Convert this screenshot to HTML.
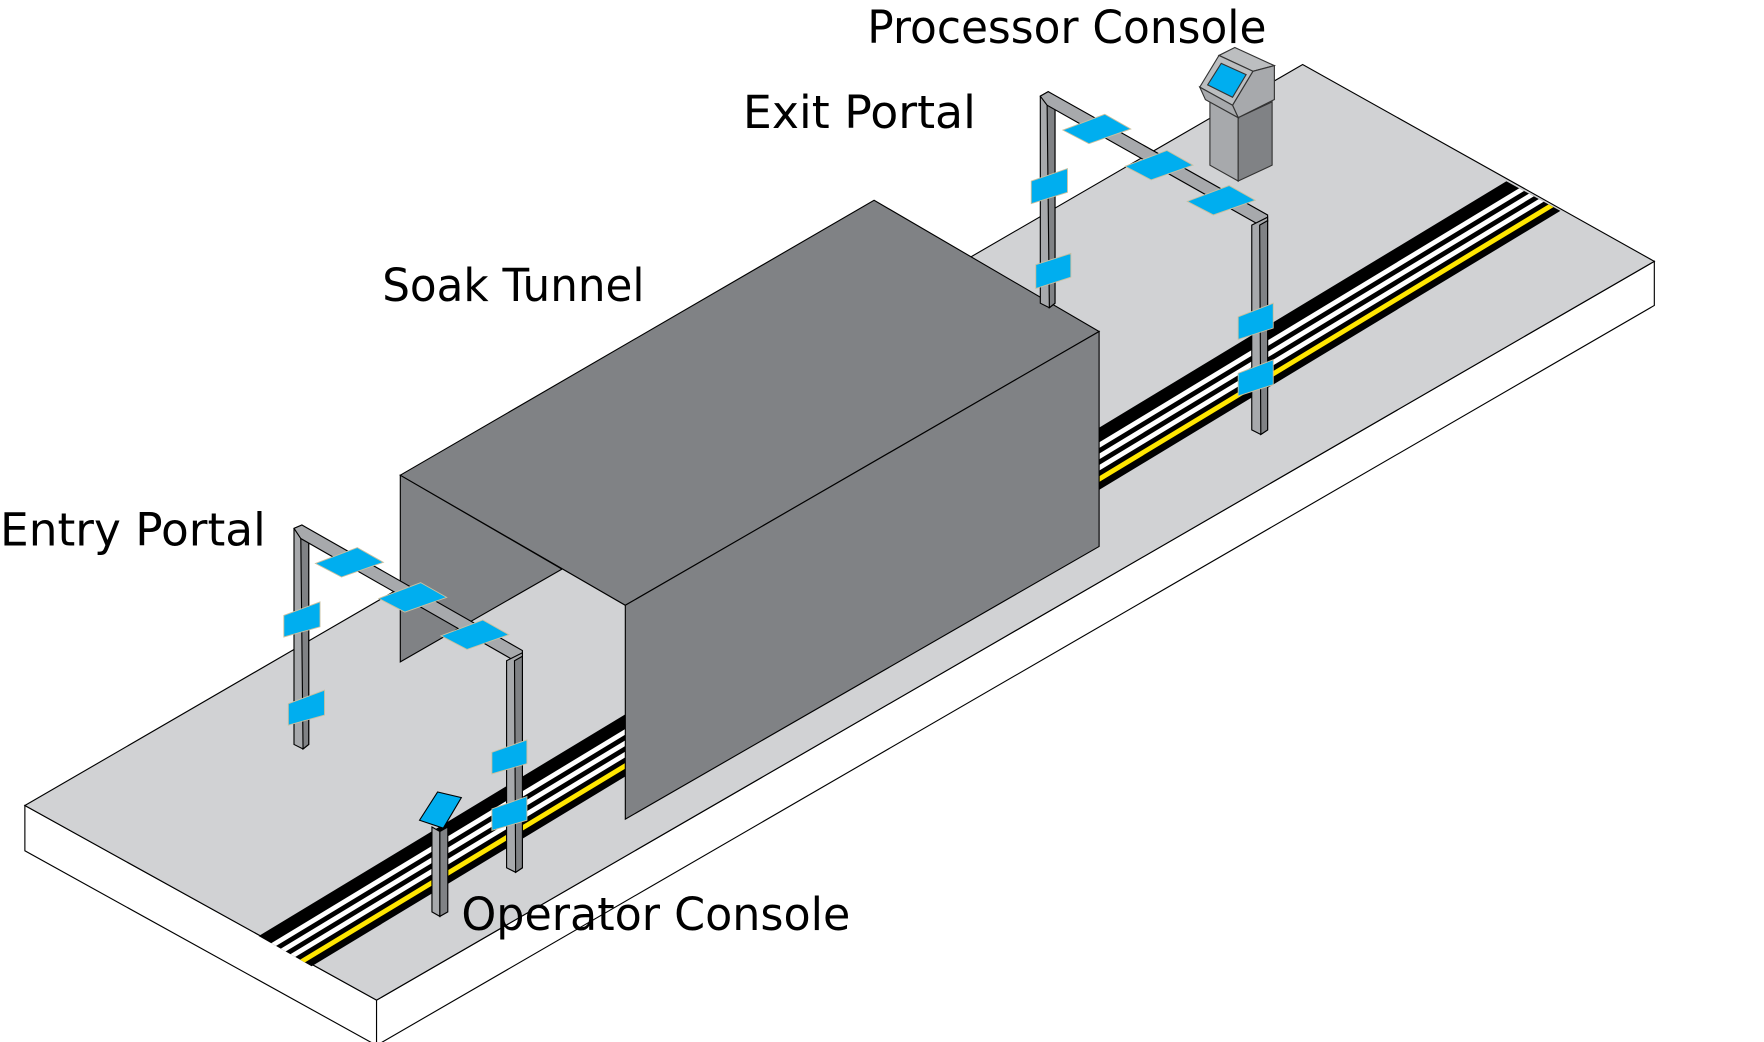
<!DOCTYPE html>
<html><head><meta charset="utf-8"><style>html,body{margin:0;padding:0;background:#fff}svg{display:block}</style></head>
<body>
<svg width="1764" height="1042" viewBox="0 0 1560 921" preserveAspectRatio="none" xmlns="http://www.w3.org/2000/svg">
<defs>
<clipPath id="lane"><polygon points="200,811 1310,148 1410,203 300,868"/></clipPath>
</defs>
<polygon points="22,712 333,884 333,924 22,752" fill="#fff" stroke="#000" stroke-width="1"/>
<polygon points="333,884 1463,231 1463,270 333,924" fill="#fff" stroke="#000" stroke-width="1"/>
<polygon points="22,712 1152,57 1463,231 333,884" fill="#d1d2d4" stroke="#000" stroke-width="1"/>
<g clip-path="url(#lane)">
<polygon points="150,875 1450,89 1450,144 150,930" fill="#000"/>
<polygon points="150,888 1450,102 1450,107 150,893" fill="#fff"/>
<polygon points="150,898 1450,112 1450,117 150,903" fill="#fff"/>
<polygon points="150,908 1450,122 1450,127 150,913" fill="#fff"/>
<polygon points="150,918 1450,132 1450,137 150,923" fill="#ffe600"/>
</g>
<polygon points="354,420 497,503 354,585" fill="#808285" stroke="#000" stroke-width="1"/>
<polygon points="354,420 773,177 972,293 553,535" fill="#808285" stroke="#000" stroke-width="1"/>
<polygon points="553,535 972,293 972,483 553,724" fill="#808285" stroke="#000" stroke-width="1"/>
<g stroke="#000" stroke-width="1">
<polygon points="260,467 267,464 273,468 273,658 268,662 260,658" fill="#a7a9ac"/>
<polygon points="266,474 273,470 273,658 268,662" fill="#808285"/>
<polygon points="260,467 267,464 462,575 462,581 455,584 266,476" fill="#a7a9ac"/>
<polygon points="448,584 462,577 462,767 456,771 448,767" fill="#a7a9ac"/>
<polygon points="455,584 462,580 462,767 456,771" fill="#808285"/>
</g>
<g fill="#00aeef" stroke="#c8c0a0" stroke-width="0.8">
<polygon points="279,498 316,484 339,497 302,510"/>
<polygon points="335,529 372,515 395,528 358,541"/>
<polygon points="390,562 427,548 450,561 413,574"/>
<polygon points="251,544 283,532 283,554 251,563"/>
<polygon points="255,622 287,610 287,632 255,641"/>
<polygon points="435,665 466,654 466,675 435,684"/>
<polygon points="435,715 466,704 466,725 435,734"/>
</g>
<g stroke="#000" stroke-width="1">
<polygon points="920,85 927,81 933,85 933,268 928,272 920,268" fill="#a7a9ac"/>
<polygon points="926,91 933,87 933,268 928,272" fill="#808285"/>
<polygon points="920,85 927,81 1121,190 1121,196 1114,199 926,93" fill="#a7a9ac"/>
<polygon points="1107,199 1121,192 1121,380 1115,384 1107,380" fill="#a7a9ac"/>
<polygon points="1114,199 1121,195 1121,380 1115,384" fill="#808285"/>
</g>
<g fill="#00aeef" stroke="#c8c0a0" stroke-width="0.8">
<polygon points="940,115 977,101 1000,114 963,127"/>
<polygon points="995,147 1032,133 1055,146 1018,159"/>
<polygon points="1050,178 1087,164 1110,177 1073,190"/>
<polygon points="912,160 944,149 944,170 912,180"/>
<polygon points="916,234 947,224 947,245 916,255"/>
<polygon points="1095,280 1126,268 1126,290 1095,300"/>
<polygon points="1095,330 1126,318 1126,340 1095,350"/>
</g>
<g stroke="#333" stroke-width="1">
<polygon points="1070,90 1095,104 1095,160 1070,146" fill="#a7a9ac"/>
<polygon points="1095,104 1125,90 1125,146 1095,160" fill="#808285"/>
<polygon points="1078,49 1092,42 1127,58 1108,63" fill="#bcbec0"/>
<polygon points="1108,63 1127,58 1127,88 1095,104 1090,93" fill="#a7a9ac"/>
<polygon points="1078,49 1108,63 1090,93 1061,77" fill="#bcbec0"/>
<polygon points="1061,77 1090,93 1095,104 1066,88" fill="#a7a9ac"/>
<polygon points="1080,56 1102,66 1090,86 1068,75" fill="#00aeef"/>
</g>
<g stroke="#000" stroke-width="1">
<polygon points="382,731 389,735 389,810 382,806" fill="#a7a9ac"/>
<polygon points="389,735 396,731 396,806 389,810" fill="#808285"/>
<polygon points="371,725 387,700 408,705 392,732" fill="#00aeef"/>
</g>
<g font-family="'DejaVu Sans','Liberation Sans',sans-serif" font-size="40" fill="#000">
<text x="767" y="38" textLength="353" lengthAdjust="spacingAndGlyphs">Processor Console</text>
<text x="657" y="113" textLength="206" lengthAdjust="spacingAndGlyphs">Exit Portal</text>
<text x="338" y="266" textLength="232" lengthAdjust="spacingAndGlyphs">Soak Tunnel</text>
<text x="0" y="482" textLength="235" lengthAdjust="spacingAndGlyphs">Entry Portal</text>
<text x="408" y="822" textLength="344" lengthAdjust="spacingAndGlyphs">Operator Console</text>
</g>
</svg>
</body></html>
